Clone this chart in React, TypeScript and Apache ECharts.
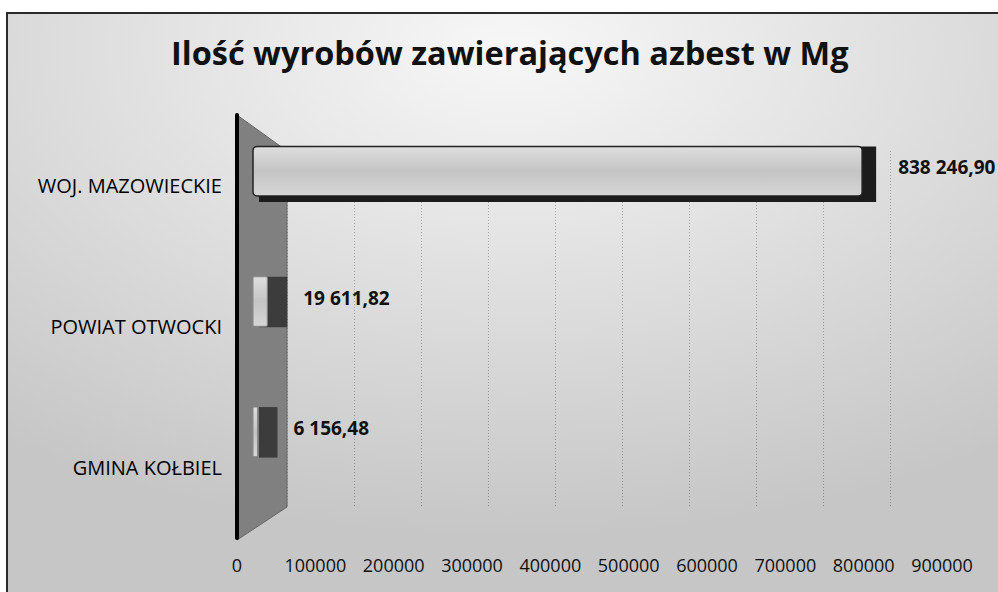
import React, { useEffect, useRef } from "react";
import * as echarts from "echarts";

const TITLE = "Ilość wyrobów zawierających azbest w Mg";
const categories = ["WOJ. MAZOWIECKIE", "POWIAT OTWOCKI", "GMINA KOŁBIEL"];
const values = [838246.9, 19611.82, 6156.48];
const AXIS_MIN = 0;
const AXIS_MAX = 900000;
const AXIS_STEP = 100000;

const FONT = "'Open Sans', 'Noto Sans', sans-serif";

function fmtPl(v: number): string {
  const [i, d] = v.toFixed(2).split(".");
  return i.replace(/\B(?=(\d{3})+(?!\d))/g, " ") + "," + d;
}

export default function App() {
  const ref = useRef<HTMLDivElement>(null);
  useEffect(() => {
    if (!ref.current) return;
    const chart = echarts.init(ref.current, undefined, { renderer: "svg" });
    const barData = categories.map((c, i) => [c, values[i]]);
    const option: any = {
      animation: false,
      backgroundColor: "#ffffff",
      title: {
        text: TITLE,
        left: 166,
        top: 31,
        textStyle: { fontFamily: FONT, fontSize: 32.5, fontWeight: "bold", color: "#111" },
      },
      graphic: [
        {
          type: "rect",
          z: -10,
          silent: true,
          shape: { x: 7, y: 13, width: 1200, height: 700 },
          style: {
            fill: {
              type: "radial",
              x: 0.42,
              y: 0.05,
              r: 0.7,
              colorStops: [
                { offset: 0, color: "#f7f7f7" },
                { offset: 1, color: "#c6c6c6" },
              ],
            },
            stroke: "#2a2a2a",
            lineWidth: 2,
          },
        },
        {
          type: "polygon",
          z: 1,
          silent: true,
          shape: { points: [[237, 115], [287, 151], [287, 507], [237, 540]] },
          style: { fill: "#808080", stroke: "#666", lineWidth: 1 },
        },
      ],
      grid: [
        { left: 237, right: 56, top: 115, bottom: 54 },
        { left: 253, right: 91, top: 106, bottom: 95 },
        { left: 287, right: 108, top: 151, bottom: 85 },
      ],
      xAxis: [
        {
          gridIndex: 0,
          type: "value",
          min: AXIS_MIN,
          max: AXIS_MAX,
          interval: AXIS_STEP,
          axisLine: { show: false },
          axisTick: { show: false },
          splitLine: { show: false },
          axisLabel: {
            fontFamily: FONT,
            fontSize: 18,
            color: "#111",
            margin: 18,
            formatter: (v: number) => String(v),
          },
        },
        {
          gridIndex: 1,
          type: "value",
          min: AXIS_MIN,
          max: AXIS_MAX,
          show: false,
        },
        {
          gridIndex: 2,
          type: "value",
          min: AXIS_MIN,
          max: AXIS_MAX,
          interval: AXIS_STEP,
          axisLine: { show: false },
          axisTick: { show: false },
          axisLabel: { show: false },
          splitLine: { show: true, lineStyle: { color: "rgba(0,0,0,0.28)", type: [1, 2], width: 1 } },
        },
      ],
      yAxis: [
        {
          gridIndex: 0,
          type: "category",
          data: categories,
          inverse: true,
          axisTick: { show: false },
          axisLine: { show: true, lineStyle: { color: "#000", width: 4 } },
          axisLabel: { fontFamily: FONT, fontSize: 20, color: "#000", margin: 15 },
          z: 5,
        },
        {
          gridIndex: 1,
          type: "category",
          data: categories,
          inverse: true,
          show: false,
        },
        {
          gridIndex: 2,
          type: "category",
          data: categories,
          inverse: true,
          show: false,
        },
      ],
      series: [
        {
          type: "custom",
          xAxisIndex: 1,
          yAxisIndex: 1,
          z: 10,
          encode: { x: 1, y: 0 },
          data: barData,
          renderItem: (params: any, api: any) => {
            const cat = api.value(0);
            const val = api.value(1);
            const s = api.coord([0, cat]);
            const e = api.coord([val, cat]);
            const h = api.size([0, 1])[1] * 0.38;
            const x0 = s[0];
            const x1 = e[0];
            const yc = s[1];
            const w = x1 - x0;
            const top = yc - h / 2;
            const big = w > 100;
            const side = big ? 14 : 20;
            return {
              type: "group",
              children: [
                {
                  type: "rect",
                  shape: { x: x0 + 6, y: top, width: w + side - 6, height: h + (big ? 6 : 1) },
                  style: { fill: big ? "#1c1c1c" : "#3c3c3c" },
                },
                {
                  type: "rect",
                  shape: { x: x0, y: top, width: w, height: h, r: big ? 4 : 1 },
                  style: {
                    fill: {
                      type: "linear",
                      x: 0,
                      y: 0,
                      x2: 0,
                      y2: 1,
                      colorStops: [
                        { offset: 0, color: "#dedede" },
                        { offset: 0.5, color: "#c4c4c4" },
                        { offset: 1, color: "#d6d6d6" },
                      ],
                    },
                    stroke: big ? "#222" : "#888",
                    lineWidth: big ? 1.5 : 1,
                  },
                },
                {
                  type: "text",
                  x: x1 + 36,
                  y: yc - 4,
                  style: {
                    text: fmtPl(val),
                    fontFamily: FONT,
                    fontSize: 19,
                    fontWeight: "bold",
                    fill: "#111",
                    textAlign: "left",
                    textVerticalAlign: "middle",
                  },
                },
              ],
            };
          },
        },
      ],
    };
    chart.setOption(option);
    return () => chart.dispose();
  }, []);
  return (
    <div
      ref={ref}
      style={{ position: "absolute", left: 0, top: 0, width: 998, height: 592 }}
    />
  );
}
